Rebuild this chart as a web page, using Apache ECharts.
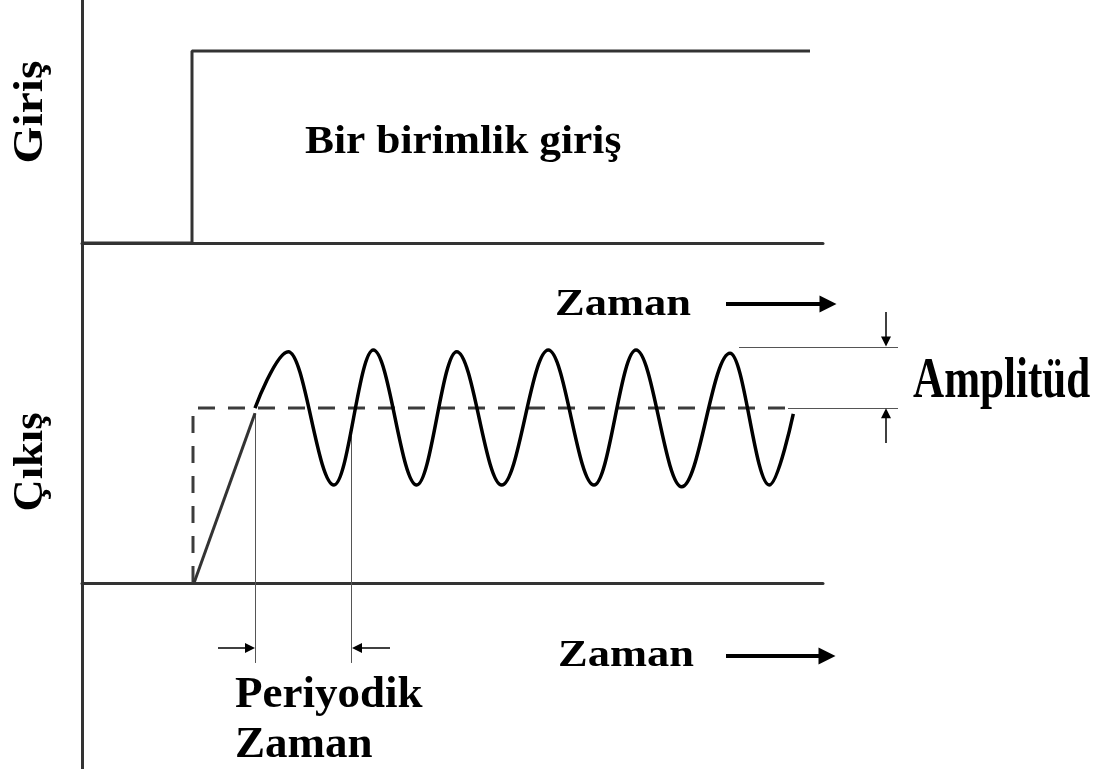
<!DOCTYPE html>
<html>
<head>
<meta charset="utf-8">
<script src="https://cdn.jsdelivr.net/npm/echarts@6/dist/echarts.min.js"></script>
<style>
  html, body { margin: 0; padding: 0; background: #fff; }
  #chart { width: 1107px; height: 769px; }
</style>
</head>
<body>
<div id="chart"></div>
<script>
// time axis (arbitrary units) and normalised amplitude
const inputT = [0, 11.0, 11.0, 72.8];
const inputV = [0, 0, 1, 1];

const setT = [11.1, 11.1, 70.5];
const setV = [0, 1, 1];

const rampT = [11.2, 17.3];
const rampV = [0, 0.97];

// oscillating output: start, peaks, troughs, end
const respT = [17.3, 20.63, 25.2, 29.13, 33.47, 37.47, 41.97, 46.63, 51.2, 55.4, 59.97, 64.8, 68.73, 71.13];
const respV = [1.0, 1.322, 0.56, 1.331, 0.56, 1.322, 0.56, 1.331, 0.56, 1.331, 0.55, 1.313, 0.56, 0.966];

// guide lines (period markers, amplitude markers)
const periodGuides = [[[17.3, 0.97], [17.3, -0.457]], [[26.97, 0.84], [26.97, -0.457]]];
const amplitudeGuides = [[[65.7, 1.349], [81.6, 1.349]], [[70.6, 1.0], [81.6, 1.0]]];

// arrows (end = centre of the arrow head)
const periodArrows = [[[13.6, -0.371], [16.8, -0.371]], [[30.8, -0.371], [27.5, -0.371]]];
const amplitudeArrows = [[[80.4, 1.549], [80.4, 1.38]], [[80.4, 0.8], [80.4, 0.97]]];
const timeArrows = [[[64.4, 1.594], [74.6, 1.594]], [[64.4, -0.417], [74.5, -0.417]]];

const labels = {
  input: 'Giriş',
  output: 'Çıkış',
  step: 'Bir birimlik giriş',
  time: 'Zaman',
  period: ['Periyodik', 'Zaman'],
  amplitude: 'Amplitüd'
};

const zip = (xs, ys) => xs.map((x, i) => [x, ys[i]]);
const axisColor = '#333';
const serif = '"Liberation Serif", "Times New Roman", serif';

const chart = echarts.init(document.getElementById('chart'));

const hiddenAxis = {
  axisLabel: { show: false },
  axisTick: { show: false },
  splitLine: { show: false },
  axisLine: { show: true, onZero: true, lineStyle: { color: axisColor, width: 3 } }
};

const textItem = (text, x, y, size, scaleX, align, rotation) => ({
  type: 'text',
  x: x,
  y: y,
  scaleX: scaleX,
  rotation: rotation || 0,
  style: {
    text: text,
    font: 'bold ' + size + 'px ' + serif,
    fill: '#000',
    align: align || 'left',
    verticalAlign: 'middle'
  }
});

const option = {
  animation: false,
  grid: [
    { left: 82, right: 284, top: 0, height: 243 },
    { left: 82, right: 284, top: 243, bottom: 0 }
  ],
  xAxis: [
    Object.assign({ type: 'value', gridIndex: 0, min: 0, max: 74.1 }, hiddenAxis),
    Object.assign({ type: 'value', gridIndex: 1, min: 0, max: 74.1 }, hiddenAxis)
  ],
  yAxis: [
    Object.assign({ type: 'value', gridIndex: 0, min: 0, max: 1.2656 }, hiddenAxis),
    Object.assign({ type: 'value', gridIndex: 1, min: -1.063, max: 1.943 }, hiddenAxis)
  ],
  series: [
    {
      name: 'Giriş',
      type: 'line',
      xAxisIndex: 0,
      yAxisIndex: 0,
      showSymbol: false,
      data: zip(inputT, inputV),
      lineStyle: { color: axisColor, width: 3 }
    },
    {
      name: 'Setpoint',
      type: 'line',
      xAxisIndex: 1,
      yAxisIndex: 1,
      showSymbol: false,
      data: zip(setT, setV),
      lineStyle: { color: '#3c3c3c', width: 3, type: [17, 13] }
    },
    {
      name: 'Ramp',
      type: 'line',
      xAxisIndex: 1,
      yAxisIndex: 1,
      showSymbol: false,
      data: zip(rampT, rampV),
      lineStyle: { color: axisColor, width: 3 }
    },
    {
      name: 'Çıkış',
      type: 'line',
      xAxisIndex: 1,
      yAxisIndex: 1,
      showSymbol: false,
      smooth: 0.36,
      smoothMonotone: 'x',
      data: zip(respT, respV),
      lineStyle: { color: '#000', width: 3.5 }
    },
    {
      type: 'lines',
      coordinateSystem: 'cartesian2d',
      xAxisIndex: 1,
      yAxisIndex: 1,
      clip: false,
      symbol: 'none',
      data: periodGuides.concat(amplitudeGuides).map(c => ({ coords: c })),
      lineStyle: { color: '#555', width: 1, opacity: 1 }
    },
    {
      type: 'lines',
      coordinateSystem: 'cartesian2d',
      xAxisIndex: 1,
      yAxisIndex: 1,
      clip: false,
      symbol: ['none', 'triangle'],
      symbolSize: 10,
      data: periodArrows.concat(amplitudeArrows).map(c => ({ coords: c })),
      lineStyle: { color: '#000', width: 1.5, opacity: 1 }
    },
    {
      type: 'lines',
      coordinateSystem: 'cartesian2d',
      xAxisIndex: 1,
      yAxisIndex: 1,
      clip: false,
      symbol: ['none', 'triangle'],
      symbolSize: 17,
      data: timeArrows.map(c => ({ coords: c })),
      lineStyle: { color: '#000', width: 4, opacity: 1 }
    }
  ],
  graphic: [
    textItem(labels.input, 31, 112, 42, 1.13, 'center', Math.PI / 2),
    textItem(labels.output, 31, 462, 42, 1.06, 'center', Math.PI / 2),
    textItem(labels.step, 305, 142, 41, 1.06),
    textItem(labels.time, 555, 305, 38, 1.17),
    textItem(labels.time, 558, 656, 38, 1.17),
    textItem(labels.period[0], 235, 695, 45, 1.0),
    textItem(labels.period[1], 235, 745, 45, 1.0),
    textItem(labels.amplitude, 913, 383, 56, 0.77)
  ]
};

chart.setOption(option);
</script>
</body>
</html>
